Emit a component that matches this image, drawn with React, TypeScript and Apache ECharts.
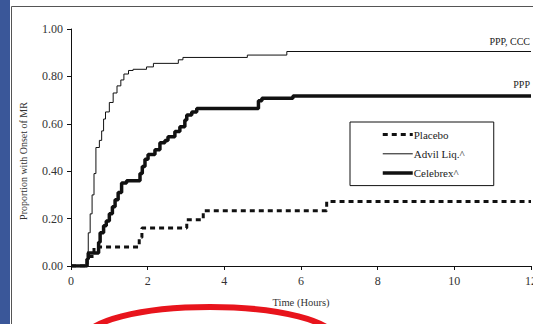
import React, { useEffect, useRef } from "react";
import * as echarts from "echarts";

const xTicks = [0, 2, 4, 6, 8, 10, 12];
const yTicks = [0, 0.2, 0.4, 0.6, 0.8, 1.0];

const seriesNames = ["Placebo", "Advil Liq.^", "Celebrex^"];

const placebo: [number, number][] = [
  [0, 0], [0.42, 0.04], [0.6, 0.08], [1.78, 0.12], [1.85, 0.16],
  [3.02, 0.195], [3.45, 0.233], [6.67, 0.272], [12, 0.272],
];

const advil: [number, number][] = [
  [0, 0], [0.43, 0.06], [0.45, 0.14], [0.5, 0.22], [0.55, 0.3], [0.6, 0.39],
  [0.65, 0.5], [0.74, 0.53], [0.8, 0.57], [0.85, 0.62], [0.9, 0.65],
  [1.0, 0.69], [1.1, 0.73], [1.2, 0.76], [1.3, 0.785], [1.38, 0.81],
  [1.5, 0.825], [1.62, 0.83], [1.97, 0.84], [2.15, 0.855], [2.8, 0.87],
  [2.92, 0.88], [4.6, 0.89], [5.63, 0.905], [12, 0.905],
];

const celebrex: [number, number][] = [
  [0, 0], [0.42, 0.03], [0.45, 0.055], [0.72, 0.1], [0.76, 0.14],
  [0.85, 0.17], [0.92, 0.19], [1.0, 0.22], [1.08, 0.25], [1.15, 0.28],
  [1.23, 0.31], [1.32, 0.35], [1.45, 0.36], [1.8, 0.39], [1.86, 0.42],
  [1.93, 0.45], [2.01, 0.47], [2.19, 0.49], [2.32, 0.52], [2.45, 0.53],
  [2.53, 0.545], [2.71, 0.567], [2.84, 0.588], [2.97, 0.616], [3.02, 0.637],
  [3.15, 0.65], [3.28, 0.665], [4.89, 0.697], [4.98, 0.708], [5.79, 0.717],
  [12, 0.717],
];

const endLabels = ["PPP, CCC", "PPP"];
const xAxisTitle = "Time (Hours)";
const yAxisTitle = "Proportion with Onset of MR";

const SERIF = "'Liberation Serif', 'DejaVu Serif', serif";

const lineStyles = [
  { color: "#111", width: 3, type: [5, 4] as number[] },
  { color: "#111", width: 1, type: "solid" },
  { color: "#111", width: 3.5, type: "solid" },
];

export default function App() {
  const ref = useRef<HTMLDivElement>(null);
  useEffect(() => {
    if (!ref.current) return;
    const chart = echarts.init(ref.current, undefined, { renderer: "svg" });
    chart.setOption({
      animation: false,
      backgroundColor: "#ffffff",
      grid: { left: 71, top: 29, right: 2, bottom: 58, outerBoundsMode: "none", containLabel: false },
      xAxis: {
        type: "value",
        min: xTicks[0],
        max: xTicks[xTicks.length - 1],
        interval: 2,
        name: xAxisTitle,
        nameLocation: "middle",
        nameGap: 31,
        nameTextStyle: { fontFamily: SERIF, fontSize: 10.5, color: "#333" },
        axisLine: { show: true, lineStyle: { color: "#111", width: 1 } },
        axisTick: { show: true, length: 4, lineStyle: { color: "#111" } },
        axisLabel: { fontFamily: SERIF, fontSize: 12, color: "#333", margin: 9 },
        splitLine: { show: false },
      },
      yAxis: {
        type: "value",
        min: yTicks[0],
        max: yTicks[yTicks.length - 1],
        interval: 0.2,
        axisLine: { show: true, lineStyle: { color: "#111", width: 1 } },
        axisTick: { show: true, length: 4, lineStyle: { color: "#111" } },
        axisLabel: {
          fontFamily: SERIF,
          fontSize: 12,
          color: "#333",
          margin: 8,
          formatter: (v: number) => v.toFixed(2),
        },
        splitLine: { show: false },
      },
      legend: {
        orient: "vertical",
        left: 350,
        top: 122,
        data: seriesNames.map((n, i) => ({ name: n, lineStyle: lineStyles[i], itemStyle: { opacity: 0 } })),
        itemWidth: 30,
        itemHeight: 14,
        itemGap: 8,
        padding: [7, 29, 7, 31],
        borderColor: "#111",
        borderWidth: 1,
        itemStyle: { opacity: 0 },
        textStyle: { fontFamily: SERIF, fontSize: 11, color: "#222", padding: [0, 0, 0, -4] },
      },
      graphic: [
        { type: "rect", shape: { x: 0, y: 0, width: 10, height: 324 }, style: { fill: "#3a5799" } },
        { type: "rect", shape: { x: 11.5, y: 6.5, width: 700, height: 500 }, style: { fill: "none", stroke: "#555", lineWidth: 1 } },
        {
          type: "text",
          x: 23,
          y: 161,
          rotation: Math.PI / 2,
          style: { text: yAxisTitle, font: `10px ${SERIF}`, fill: "#333", textAlign: "center", textVerticalAlign: "middle" },
        },
        { type: "text", x: 530, y: 41, style: { text: endLabels[0], font: `10px ${SERIF}`, fill: "#222", textAlign: "right", textVerticalAlign: "middle" } },
        { type: "text", x: 530, y: 84, style: { text: endLabels[1], font: `10px ${SERIF}`, fill: "#222", textAlign: "right", textVerticalAlign: "middle" } },
        { type: "ellipse", shape: { cx: 210, cy: 339, rx: 125, ry: 32 }, style: { fill: "none", stroke: "#e8141c", lineWidth: 6 } },
      ],
      series: [
        { name: seriesNames[0], type: "line", step: "end", symbol: "none", data: placebo, lineStyle: lineStyles[0], itemStyle: { color: "#111" } },
        { name: seriesNames[1], type: "line", step: "end", symbol: "none", data: advil, lineStyle: lineStyles[1], itemStyle: { color: "#111" } },
        { name: seriesNames[2], type: "line", step: "end", symbol: "none", data: celebrex, lineStyle: lineStyles[2], itemStyle: { color: "#111" } },
      ],
    });
    return () => chart.dispose();
  }, []);
  return (
    <div style={{ position: "fixed", left: 0, top: 0, width: 533, height: 324, background: "#fff" }}>
      <div ref={ref} style={{ width: 533, height: 324 }} />
    </div>
  );
}
